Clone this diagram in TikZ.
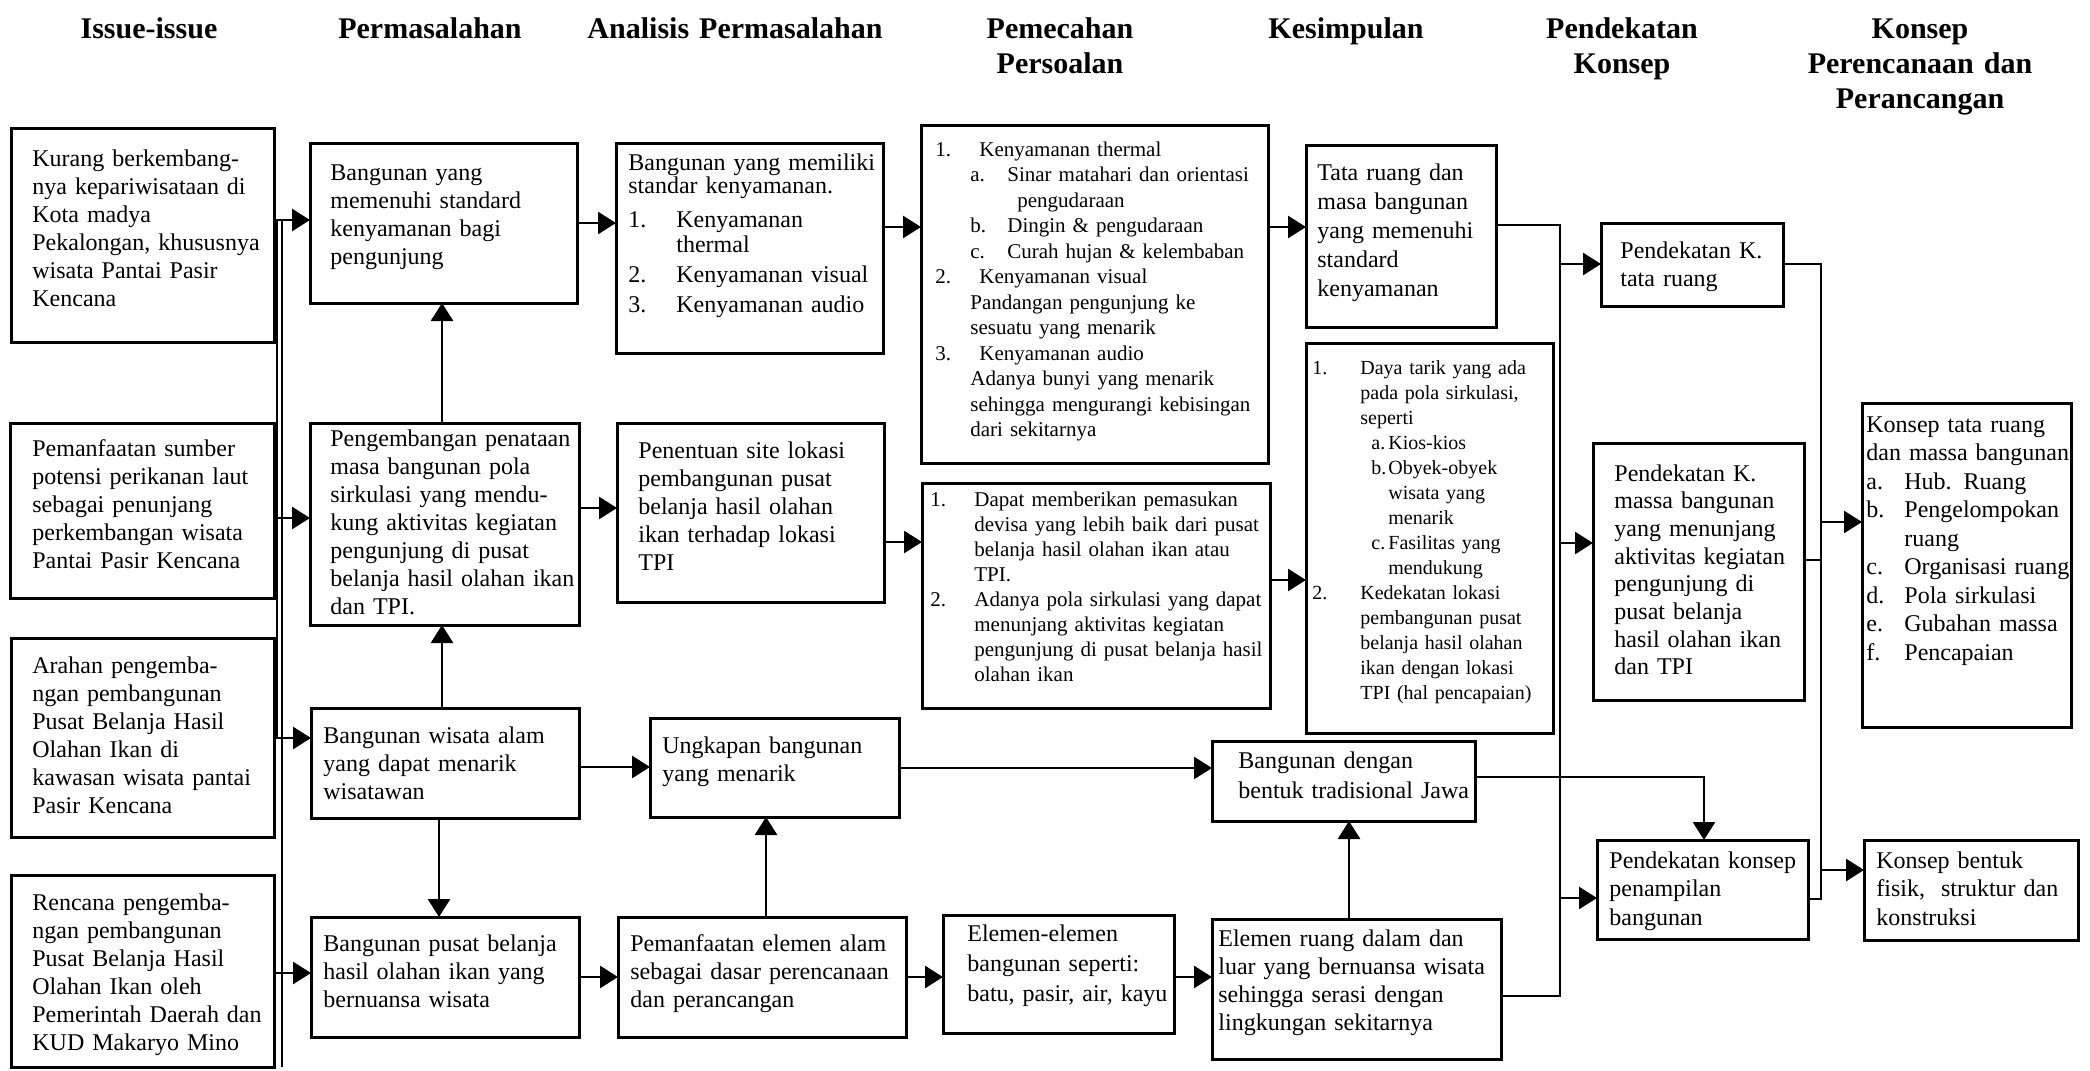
\documentclass[tikz,border=0pt]{standalone}
\usepackage{fontspec}
\setmainfont{Liberation Serif}
\usetikzlibrary{arrows.meta}
% fixed-width label at the start of a list line
\newcommand\lab[2]{\makebox[#1][l]{#2}}
% framed panel from its top-left to its bottom-right corner (pixel units)
\newcommand\panel[5]{%
  \node[frame, minimum width={(#4-#2)*0.5pt}, minimum height={(#5-#3)*0.5pt}] (#1) at (#2,#3) {};}
\begin{document}
\begin{tikzpicture}[x=0.5pt,y=-0.5pt,
  frame/.style={draw, line width=1.5pt, inner sep=0pt, outer sep=0pt, anchor=north west},
  line/.style={draw, line width=1.4pt},
  arr/.style={line, -{Triangle[length=9pt,width=11pt]}},
  body/.style={anchor=base west, inner sep=0pt, align=left, font=\fontsize{12}{14}\selectfont},
  small/.style={body, font=\fontsize{10.5}{12.75}\selectfont},
  head/.style={anchor=base, inner sep=0pt, align=center, text width=170pt,
    font=\bfseries\fontsize{15}{17.5}\selectfont}]
\useasboundingbox (0,0) rectangle (2090,1071);

% column headings
\node[head] (h1) at (149,38) {Issue-issue};
\node[head] (h2) at (430,38) {Permasalahan};
\node[head] (h3) at (735,38) {Analisis Permasalahan};
\node[head] (h4) at (1060,38) {Pemecahan\\Persoalan};
\node[head] (h5) at (1346,38) {Kesimpulan};
\node[head] (h6) at (1622,38) {Pendekatan\\Konsep};
\node[head] (h7) at (1920,38) {Konsep\\Perencanaan dan\\Perancangan};

% frames
\panel{i1}{11}{128}{274}{342}
\panel{i2}{10}{423}{274}{598}
\panel{i3}{11}{638}{274}{837}
\panel{i4}{11}{875}{274}{1067}
\panel{c2a}{310}{143}{577}{303}
\panel{c2b}{310}{423}{579}{625}
\panel{c2c}{311}{708}{579}{818}
\panel{c2d}{311}{917}{579}{1037}
\panel{c3a}{616}{143}{883}{353}
\panel{c3b}{617}{423}{884}{602}
\panel{c3c}{650}{718}{899}{817}
\panel{c3d}{618}{917}{906}{1037}
\panel{c4a}{921}{125}{1268}{463}
\panel{c4b}{922}{483}{1270}{708}
\panel{c4c}{943}{915}{1174}{1033}
\panel{c5a}{1306}{145}{1496}{327}
\panel{c5b}{1306}{343}{1553}{733}
\panel{c5c}{1212}{741}{1475}{821}
\panel{c5d}{1212}{919}{1501}{1059}
\panel{pk1}{1601}{223}{1783}{306}
\panel{pk2}{1593}{443}{1804}{700}
\panel{pk3}{1597}{840}{1808}{939}
\panel{k1}{1862}{403}{2071}{727}
\panel{k2}{1864}{840}{2078}{940}

% texts
\node[body, text width=124pt] (i1t) at (32,166) {Kurang berkembang-\\nya kepariwisataan di\\Kota madya\\Pekalongan, khususnya\\wisata Pantai Pasir\\Kencana};
\node[body, text width=124pt] (i2t) at (32,456) {Pemanfaatan sumber\\potensi perikanan laut\\sebagai penunjang\\perkembangan wisata\\Pantai Pasir Kencana};
\node[body, text width=124pt] (i3t) at (32,673) {Arahan pengemba-\\ngan pembangunan\\Pusat Belanja Hasil\\Olahan Ikan di\\kawasan wisata pantai\\Pasir Kencana};
\node[body, text width=124pt] (i4t) at (32,910) {Rencana pengemba-\\ngan pembangunan\\Pusat Belanja Hasil\\Olahan Ikan oleh\\Pemerintah Daerah dan\\KUD Makaryo Mino};

\node[body, text width=126pt] (c2at) at (330,180) {Bangunan yang\\memenuhi standard\\kenyamanan bagi\\pengunjung};
\node[body, text width=127pt] (c2bt) at (330,446) {Pengembangan penataan\\masa bangunan pola\\sirkulasi yang mendu-\\kung aktivitas kegiatan\\pengunjung di pusat\\belanja hasil olahan ikan\\dan TPI.};
\node[body, text width=130pt] (c2ct) at (323,743) {Bangunan wisata alam\\yang dapat menarik\\wisatawan};
\node[body, text width=130pt] (c2dt) at (323,951) {Bangunan pusat belanja\\hasil olahan ikan yang\\bernuansa wisata};

\node[body, text width=130pt, font=\fontsize{12}{14}\selectfont] (c3at) at (628,170) {Bangunan yang memiliki\\[-2.5pt]standar kenyamanan.\\[3pt]\lab{24pt}{1.}Kenyamanan\\[-1.5pt]\hspace*{24pt}thermal\\[1pt]\lab{24pt}{2.}Kenyamanan visual\\[1pt]\lab{24pt}{3.}Kenyamanan audio};
\node[body, text width=125pt] (c3bt) at (638,458) {Penentuan site lokasi\\pembangunan pusat\\belanja hasil olahan\\ikan terhadap lokasi\\TPI};
\node[body, text width=120pt] (c3ct) at (662,753) {Ungkapan bangunan\\yang menarik};
\node[body, text width=140pt] (c3dt) at (630,951) {Pemanfaatan elemen alam\\sebagai dasar perencanaan\\dan perancangan};

\node[small, text width=168pt] (c4at) at (935,156) {\lab{22pt}{1.}Kenyamanan thermal\\
\hspace*{17.5pt}\lab{18.5pt}{a.}Sinar matahari dan orientasi\\
\hspace*{41pt}pengudaraan\\
\hspace*{17.5pt}\lab{18.5pt}{b.}Dingin \& pengudaraan\\
\hspace*{17.5pt}\lab{18.5pt}{c.}Curah hujan \& kelembaban\\
\lab{22pt}{2.}Kenyamanan visual\\
\hspace*{17.5pt}Pandangan pengunjung ke\\
\hspace*{17.5pt}sesuatu yang menarik\\
\lab{22pt}{3.}Kenyamanan audio\\
\hspace*{17.5pt}Adanya bunyi yang menarik\\
\hspace*{17.5pt}sehingga mengurangi kebisingan\\
\hspace*{17.5pt}dari sekitarnya};
\node[small, text width=172pt, font=\fontsize{10.5}{12.5}\selectfont] (c4bt) at (930,506) {\lab{22pt}{1.}Dapat memberikan pemasukan\\
\hspace*{22pt}devisa yang lebih baik dari pusat\\
\hspace*{22pt}belanja hasil olahan ikan atau\\
\hspace*{22pt}TPI.\\
\lab{22pt}{2.}Adanya pola sirkulasi yang dapat\\
\hspace*{22pt}menunjang aktivitas kegiatan\\
\hspace*{22pt}pengunjung di pusat belanja hasil\\
\hspace*{22pt}olahan ikan};
\node[body, text width=106pt, font=\fontsize{12}{15}\selectfont] (c4ct) at (967,941) {Elemen-elemen\\bangunan seperti:\\batu, pasir, air, kayu};

\node[body, text width=92pt, font=\fontsize{12}{14.5}\selectfont] (c5at) at (1317,180) {Tata ruang dan\\masa bangunan\\yang memenuhi\\standard\\kenyamanan};
\node[small, text width=122pt, font=\fontsize{10}{12.5}\selectfont] (c5bt) at (1312,374) {\lab{24pt}{1.}Daya tarik yang ada\\
\hspace*{24pt}pada pola sirkulasi,\\
\hspace*{24pt}seperti\\
\hspace*{29.5pt}\lab{8.5pt}{a.}Kios-kios\\
\hspace*{29.5pt}\lab{8.5pt}{b.}Obyek-obyek\\
\hspace*{38pt}wisata yang\\
\hspace*{38pt}menarik\\
\hspace*{29.5pt}\lab{8.5pt}{c.}Fasilitas yang\\
\hspace*{38pt}mendukung\\
\lab{24pt}{2.}Kedekatan lokasi\\
\hspace*{24pt}pembangunan pusat\\
\hspace*{24pt}belanja hasil olahan\\
\hspace*{24pt}ikan dengan lokasi\\
\hspace*{24pt}TPI (hal pencapaian)};
\node[body, text width=120pt, font=\fontsize{12}{15}\selectfont] (c5ct) at (1238,768) {Bangunan dengan\\bentuk tradisional Jawa};
\node[body, text width=140pt, font=\fontsize{12}{14.15}\selectfont] (c5dt) at (1218,946) {Elemen ruang dalam dan\\luar yang bernuansa wisata\\sehingga serasi dengan\\lingkungan sekitarnya};

\node[body, text width=85pt] (pk1t) at (1620,258) {Pendekatan K.\\tata ruang};
\node[body, text width=96pt, font=\fontsize{12}{13.85}\selectfont] (pk2t) at (1614,481) {Pendekatan K.\\massa bangunan\\yang menunjang\\aktivitas kegiatan\\pengunjung di\\pusat belanja\\hasil olahan ikan\\dan TPI};
\node[body, text width=100pt, font=\fontsize{12}{14.25}\selectfont] (pk3t) at (1609,868) {Pendekatan konsep\\penampilan\\bangunan};

\node[body, text width=103pt, font=\fontsize{12}{14.25}\selectfont] (k1t) at (1866,432) {Konsep tata ruang\\dan massa bangunan\\
\lab{19pt}{a.}Hub. Ruang\\\lab{19pt}{b.}Pengelompokan\\\hspace*{19pt}ruang\\\lab{19pt}{c.}Organisasi ruang\\
\lab{19pt}{d.}Pola sirkulasi\\\lab{19pt}{e.}Gubahan massa\\\lab{19pt}{f.}Pencapaian};
\node[body, text width=102pt, font=\fontsize{12}{14.25}\selectfont] (k2t) at (1876,868) {Konsep bentuk\\fisik,\ \ struktur dan\\konstruksi};

% issue column feeding the problem column (bus drawn as a doubled line at the top)
\coordinate (bt) at (282,220);
\coordinate (bb) at (282,1067);
\coordinate (dt) at (277,220);
\coordinate (db) at (277,738);
\draw[line] (bt) -- (bb);
\draw[line, line width=1pt] (dt) -- (db);
\draw[arr] (i1.east |- 0,220) -- (c2a.west |- 0,220);
\draw[arr] (i2.east |- 0,518) -- (c2b.west |- 0,518);
\draw[arr] (i3.east |- 0,738) -- (c2c.west |- 0,738);
\draw[arr] (i4.east |- 0,973) -- (c2d.west |- 0,973);

% problem column
\draw[arr] (c2b.north -| 442,0) -- (c2a.south -| 442,0);
\draw[arr] (c2c.north -| 442,0) -- (c2b.south -| 442,0);
\draw[arr] (c2c.south -| 439,0) -- (c2d.north -| 439,0);
\draw[arr] (c2a.east |- 0,223) -- (c3a.west |- 0,223);
\draw[arr] (c2b.east |- 0,508) -- (c3b.west |- 0,508);
\draw[arr] (c2c.east |- 0,767) -- (c3c.west |- 0,767);
\draw[arr] (c2d.east |- 0,977) -- (c3d.west |- 0,977);

% analysis column
\draw[arr] (c3d.north -| 766,0) -- (c3c.south -| 766,0);
\draw[arr] (c3a.east |- 0,227) -- (c4a.west |- 0,227);
\draw[arr] (c3b.east |- 0,542) -- (c4b.west |- 0,542);
\draw[arr] (c3c.east |- 0,768) -- (c5c.west |- 0,768);
\draw[arr] (c3d.east |- 0,977) -- (c4c.west |- 0,977);

% solution column
\draw[arr] (c4a.east |- 0,227) -- (c5a.west |- 0,227);
\draw[arr] (c4b.east |- 0,580) -- (c5b.west |- 0,580);
\draw[arr] (c4c.east |- 0,977) -- (c5d.west |- 0,977);

% conclusion column
\draw[arr] (c5d.north -| 1349,0) -- (c5c.south -| 1349,0);
\coordinate (ra) at (1560,225);
\coordinate (rb) at (1560,996);
\draw[line] (c5a.east |- ra) -- (ra) -- (rb) -- (c5d.east |- rb);
\draw[arr] (ra |- 0,264) -- (pk1.west |- 0,264);
\draw[arr] (ra |- 0,543) -- (pk2.west |- 0,543);
\draw[arr] (ra |- 0,898) -- (pk3.west |- 0,898);
\coordinate (jt) at (1704,777);
\draw[arr] (c5c.east |- jt) -- (jt) -- (jt |- pk3.north);

% approach column
\coordinate (sa) at (1821,264);
\coordinate (sb) at (1821,899);
\draw[line] (pk1.east |- sa) -- (sa) -- (sb) -- (pk3.east |- sb);
\draw[line] (pk2.east |- 0,560) -- (sa |- 0,560);
\draw[arr] (sa |- 0,522) -- (k1.west |- 0,522);
\draw[arr] (sa |- 0,870) -- (k2.west |- 0,870);
\end{tikzpicture}
\end{document}
